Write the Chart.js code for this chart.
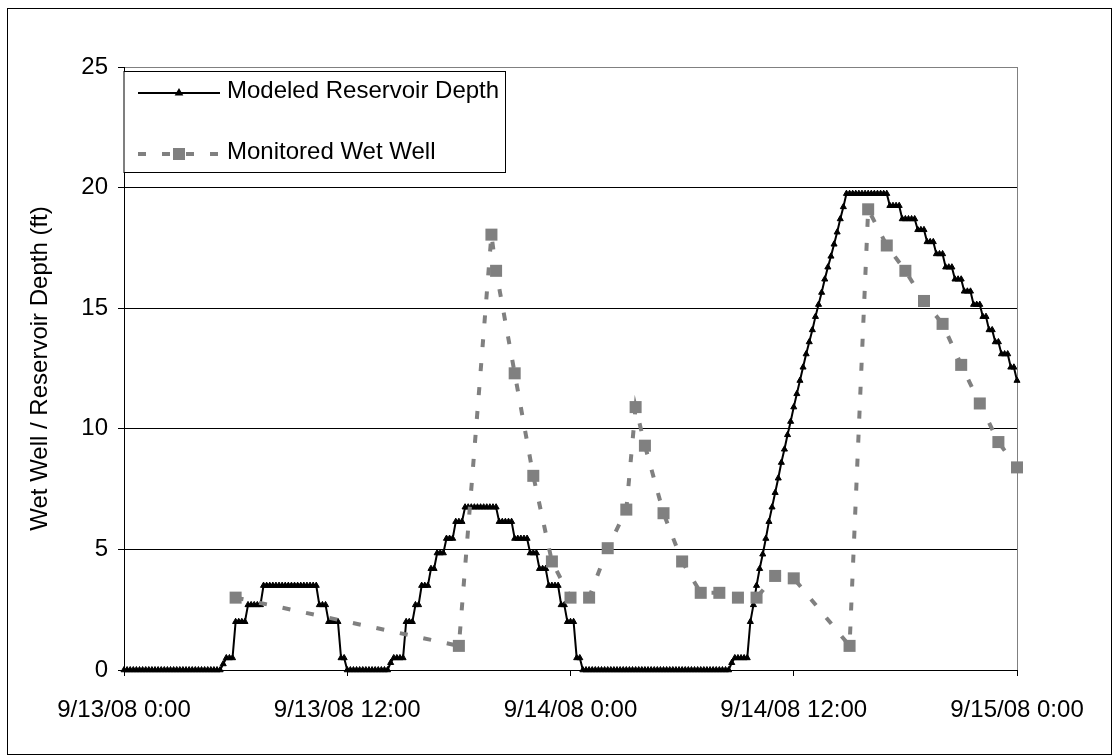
<!DOCTYPE html>
<html>
<head>
<meta charset="utf-8">
<title>Wet Well / Reservoir Depth</title>
<script src="https://cdn.jsdelivr.net/npm/chart.js@4.4.1/dist/chart.umd.min.js"></script>
<style>
  body { margin: 0; background: #fff; }
  canvas { display: block; }
</style>
</head>
<body>
<canvas id="depthChart" width="1117" height="756"></canvas>
<script>
// Time axis labels, one every 12 hours from 9/13/08 0:00
var xTickLabels = ['9/13/08 0:00', '9/13/08 12:00', '9/14/08 0:00', '9/14/08 12:00', '9/15/08 0:00'];

// Modeled reservoir depth (ft), one value every 10 minutes (12 values = 2 hours per row)
var modeledDepth = [
    0, 0, 0, 0, 0, 0, 0, 0, 0, 0, 0, 0,
    0, 0, 0, 0, 0, 0, 0, 0, 0, 0, 0, 0,
    0, 0, 0, 0, 0, 0, 0, 0, 0.25, 0.5, 0.5, 0.5,
    2, 2, 2, 2, 2.7, 2.7, 2.7, 2.7, 2.7, 3.5, 3.5, 3.5,
    3.5, 3.5, 3.5, 3.5, 3.5, 3.5, 3.5, 3.5, 3.5, 3.5, 3.5, 3.5,
    3.5, 3.5, 3.5, 2.7, 2.7, 2.7, 2, 2, 2, 2, 0.5, 0.5,
    0, 0, 0, 0, 0, 0, 0, 0, 0, 0, 0, 0,
    0, 0, 0.3, 0.5, 0.5, 0.5, 0.5, 2, 2, 2, 2.7, 2.7,
    3.5, 3.5, 3.5, 4.2, 4.2, 4.85, 4.85, 4.85, 5.45, 5.45, 5.45, 6.15,
    6.15, 6.15, 6.75, 6.75, 6.75, 6.75, 6.75, 6.75, 6.75, 6.75, 6.75, 6.75,
    6.75, 6.15, 6.15, 6.15, 6.15, 6.15, 5.45, 5.45, 5.45, 5.45, 5.45, 4.85,
    4.85, 4.85, 4.2, 4.2, 4.2, 3.5, 3.5, 3.5, 3.5, 2.7, 2.7, 2,
    2, 2, 0.5, 0.5, 0, 0, 0, 0, 0, 0, 0, 0,
    0, 0, 0, 0, 0, 0, 0, 0, 0, 0, 0, 0,
    0, 0, 0, 0, 0, 0, 0, 0, 0, 0, 0, 0,
    0, 0, 0, 0, 0, 0, 0, 0, 0, 0, 0, 0,
    0, 0, 0, 0, 0.3, 0.5, 0.5, 0.5, 0.5, 0.5, 2, 2.7,
    3.5, 4.2, 4.8, 5.45, 6.15, 6.75, 7.35, 7.95, 8.6, 9.15, 9.75, 10.3,
    10.9, 11.45, 12, 12.55, 13.1, 13.6, 14.1, 14.65, 15.15, 15.65, 16.2, 16.7,
    17.15, 17.65, 18.15, 18.7, 19.2, 19.75, 19.75, 19.75, 19.75, 19.75, 19.75, 19.75,
    19.75, 19.75, 19.75, 19.75, 19.75, 19.75, 19.75, 19.25, 19.25, 19.25, 19.25, 18.7,
    18.7, 18.7, 18.7, 18.7, 18.25, 18.25, 18.25, 17.75, 17.75, 17.75, 17.25, 17.25,
    17.25, 16.7, 16.7, 16.7, 16.2, 16.2, 16.2, 15.7, 15.7, 15.7, 15.15, 15.15,
    15.15, 14.65, 14.65, 14.1, 14.1, 13.6, 13.6, 13.1, 13.1, 13.1, 12.55, 12.55,
    12
];
var modeledStepHours = 1 / 6;

// Monitored wet well readings: hour after 9/13/08 0:00 and depth (ft)
var monitoredHours = [6, 18, 19.75, 20, 21, 22, 23, 24, 25, 26, 27, 27.5, 28, 29, 30, 31, 32, 33, 34, 35, 36, 39, 40, 41, 42, 43, 44, 45, 46, 47, 48];
var monitoredDepth = [3.0, 1.0, 18.05, 16.55, 12.3, 8.05, 4.5, 3.0, 3.0, 5.05, 6.65, 10.9, 9.3, 6.5, 4.5, 3.2, 3.2, 3.0, 3.0, 3.9, 3.8, 1.0, 19.1, 17.6, 16.55, 15.3, 14.35, 12.65, 11.05, 9.45, 8.4];

var modeledPoints = modeledDepth.map(function (v, i) {
    return { x: i * modeledStepHours, y: v };
});
var monitoredPoints = monitoredHours.map(function (h, i) {
    return { x: h, y: monitoredDepth[i] };
});

var FONT = '"Liberation Sans", Arial, sans-serif';
Chart.defaults.font.family = FONT;
Chart.defaults.font.size = 24;
Chart.defaults.color = '#000';

// White page with the thin outer frame
var frame = {
    id: 'frame',
    beforeDraw: function (chart) {
        var ctx = chart.ctx;
        ctx.save();
        ctx.fillStyle = '#fff';
        ctx.fillRect(0, 0, chart.width, chart.height);
        ctx.strokeStyle = '#000';
        ctx.lineWidth = 1;
        ctx.strokeRect(7.5, 8.5, 1104, 746);
        ctx.restore();
    }
};

// Boxed legend in the top left corner of the plot, line sample with marker
var boxLegend = {
    id: 'boxLegend',
    afterDatasetsDraw: function (chart) {
        var ctx = chart.ctx;
        var left = chart.chartArea.left;
        var top = 71.5;
        var rows = [93, 154];
        var order = [0, 1];
        ctx.save();
        ctx.font = '24px ' + FONT;
        var textX = 227;
        var maxW = 0;
        order.forEach(function (di) {
            maxW = Math.max(maxW, ctx.measureText(chart.data.datasets[di].label).width);
        });
        var right = Math.round(textX + maxW + 6) + 0.5;
        ctx.fillStyle = '#fff';
        ctx.fillRect(left, top, right - left, 101);
        ctx.strokeStyle = '#000';
        ctx.lineWidth = 1;
        ctx.strokeRect(left, top, right - left, 101);

        order.forEach(function (di, r) {
            var ds = chart.data.datasets[di];
            var y = rows[r];
            ctx.save();
            ctx.strokeStyle = ds.borderColor;
            ctx.lineWidth = ds.borderWidth;
            ctx.setLineDash(ds.borderDash || []);
            ctx.beginPath();
            ctx.moveTo(138, y);
            ctx.lineTo(220, y);
            ctx.stroke();
            ctx.setLineDash([]);
            ctx.fillStyle = ds.pointBackgroundColor;
            ctx.strokeStyle = ds.pointBorderColor;
            Chart.helpers.drawPoint(ctx, {
                pointStyle: ds.pointStyle,
                radius: ds.legendRadius,
                rotation: 0,
                borderWidth: ds.pointBorderWidth
            }, 179, y);
            ctx.restore();
            ctx.fillStyle = '#000';
            ctx.textBaseline = 'middle';
            ctx.fillText(ds.label, textX, y - 2);
        });
        ctx.restore();
    }
};

new Chart(document.getElementById('depthChart'), {
    type: 'line',
    data: {
        datasets: [{
            label: 'Modeled Reservoir Depth',
            data: modeledPoints,
            borderColor: '#000',
            borderWidth: 2,
            pointStyle: 'triangle',
            pointRadius: 3.5,
            pointBackgroundColor: '#000',
            pointBorderColor: '#000',
            pointBorderWidth: 1,
            legendRadius: 3,
            tension: 0,
            clip: false,
            order: 2
        }, {
            label: 'Monitored Wet Well',
            data: monitoredPoints,
            borderColor: '#808080',
            borderWidth: 4,
            borderDash: [8, 16],
            pointStyle: 'rect',
            pointRadius: 8.5,
            pointBackgroundColor: '#808080',
            pointBorderColor: '#808080',
            pointBorderWidth: 0,
            legendRadius: 8.5,
            tension: 0,
            clip: false,
            order: 1
        }]
    },
    options: {
        responsive: false,
        animation: false,
        devicePixelRatio: 1,
        layout: { padding: { left: 8, top: 67, right: 100, bottom: 0 } },
        plugins: {
            legend: { display: false },
            tooltip: { enabled: false }
        },
        scales: {
            x: {
                type: 'linear',
                min: 0,
                max: 48,
                afterFit: function (scale) { scale.height = 86; },
                border: { color: '#000', width: 1 },
                grid: {
                    drawOnChartArea: true,
                    color: function (c) { return c.tick && c.tick.value === 48 ? '#808080' : 'rgba(0,0,0,0)'; },
                    tickColor: '#000',
                    tickLength: 6
                },
                ticks: {
                    stepSize: 12,
                    autoSkip: false,
                    maxRotation: 0,
                    padding: 20,
                    callback: function (v) { return xTickLabels[v / 12]; }
                }
            },
            y: {
                min: 0,
                max: 25,
                afterFit: function (scale) { scale.width = 116; },
                border: { color: '#000', width: 1 },
                grid: {
                    color: function (c) { return c.tick && c.tick.value === 25 ? '#808080' : '#000'; },
                    tickColor: '#000',
                    tickLength: 6
                },
                ticks: { stepSize: 5, padding: 10 },
                title: {
                    display: true,
                    text: 'Wet Well / Reservoir Depth (ft)',
                    font: { size: 24 },
                    padding: { top: 18, bottom: 0 }
                }
            }
        }
    },
    plugins: [frame, boxLegend]
});
</script>
</body>
</html>
